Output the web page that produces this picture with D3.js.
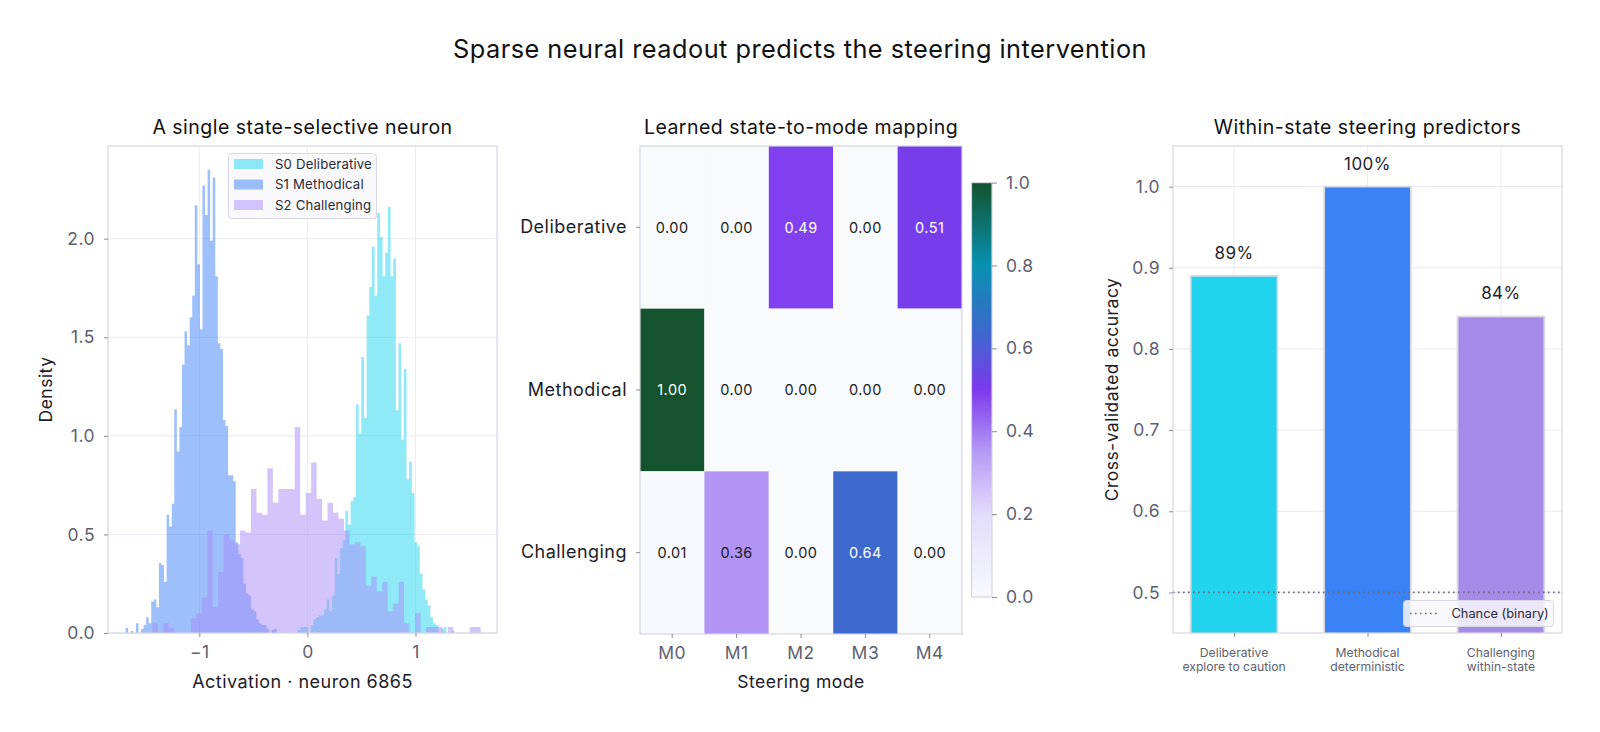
<!DOCTYPE html>
<html>
<head>
<meta charset="utf-8">
<script src="https://cdn.jsdelivr.net/npm/d3@7"></script>
<style>
  body { margin: 0; background: #fff; }
  svg { font-family: Inter, "Noto Sans", sans-serif; letter-spacing: 0.03em; }
</style>
</head>
<body>
<div class="chart"></div>
<script>
// ---- data ----
// histogram densities per bin (first bin edge, bin width, densities)
const s0Start = -0.0918, s0Bin = 0.0246
const s0Density = [0.015, 0.03, 0.03, 0.03, 0, 0.04, 0.07, 0.08, 0.09, 0.09, 0.12, 0.17, 0.11, 0.19, 0.38,
  0.30, 0.43, 0.47, 0.62, 0.55, 0.67, 0.69, 1.16, 1.01, 1.40, 1.09, 1.61, 1.755, 1.96, 1.71, 2.13, 2.01,
  1.81, 1.93, 2.16, 1.81, 1.90, 1.13, 1.47, 0.98, 1.34, 0.78, 0.87, 0.71, 0.46, 0.44, 0.30, 0.22, 0.17,
  0.14, 0.08, 0.05, 0.04, 0, 0.02, 0.03, 0, 0, 0.01]

const s1Start = -1.682, s1Bin = 0.0237
const s1Density = [0.025, 0, 0.01, 0, 0.05, 0, 0.02, 0.04, 0.08, 0.05, 0.16, 0.17, 0.13, 0.355, 0.345, 0.26,
  0.60, 0.54, 0.655, 1.135, 0.92, 1.045, 1.36, 1.53, 1.46, 1.60, 1.71, 2.17, 1.87, 1.54, 2.27, 2.12, 2.35,
  1.99, 2.31, 1.81, 1.47, 1.44, 1.08, 1.05, 0.80, 0.80, 0.77, 0.46, 0.40, 0.38, 0.25, 0.20, 0.19, 0.12,
  0.11, 0.07, 0.05, 0.04, 0.04, 0.02, 0, 0.015, 0.02]

const s2Start = -1.433, s2Bin = 0.0506
const s2Density = [0.05, 0, 0.05, 0.025, 0, 0, 0, 0.075, 0.10, 0.18, 0.52, 0.13, 0.31, 0.50, 0.47, 0.45,
  0.52, 0.51, 0.73, 0.61, 0.60, 0.835, 0.66, 0.73, 0.73, 0.73, 1.045, 0.60, 0.71, 0.865, 0.68, 0.57,
  0.66, 0.61, 0.58, 0.52, 0.45, 0.46, 0.44, 0.24, 0.285, 0.21, 0.26, 0.11, 0.15, 0.26, 0.05, 0, 0.10, 0,
  0.03, 0.03, 0.03, 0, 0.03, 0, 0, 0, 0.03, 0.03]

const seriesNames = ["S0 Deliberative", "S1 Methodical", "S2 Challenging"]
const histXTicks = [-1, 0, 1]
const histYTicks = [0, 0.5, 1.0, 1.5, 2.0]

// heatmap
const stateNames = ["Deliberative", "Methodical", "Challenging"]
const modeNames = ["M0", "M1", "M2", "M3", "M4"]
const mapping = [
  [0.00, 0.00, 0.49, 0.00, 0.51],
  [1.00, 0.00, 0.00, 0.00, 0.00],
  [0.01, 0.36, 0.00, 0.64, 0.00]
]
const cbarTicks = [0, 0.2, 0.4, 0.6, 0.8, 1.0]

// bars
const predictorLabels = [["Deliberative", "explore to caution"], ["Methodical", "deterministic"], ["Challenging", "within-state"]]
const accuracy = [0.89, 1.00, 0.84]
const chanceLevel = 0.5
const accTicks = [0.5, 0.6, 0.7, 0.8, 0.9, 1.0]

// ---- styles ----
const GRID = "#ebebf1"
const SPINE = "#d5d5df"
const TICK = "#8b8b99"
const TICKTXT = "#5d5f70"
const LABEL = "#1c1c28"
const histColors = ["#22d3ee", "#3b82f6", "#a78bfa"]
const barColors = ["#22d3ee", "#3b82f6", "#a68ae8"]

const width = 1600, height = 732
const svg = d3.select(".chart").append("svg")
  .attr("width", width)
  .attr("height", height)
const defs = svg.append("defs")

svg.append("text")
  .attr("x", 800).attr("y", 49).attr("dy", "0.36em")
  .attr("text-anchor", "middle")
  .attr("font-size", "25.3px")
  .attr("fill", "#111")
  .text("Sparse neural readout predicts the steering intervention")

function panelTitle(cx, txt) {
  svg.append("text")
    .attr("x", cx).attr("y", 126.5).attr("dy", "0.36em")
    .attr("text-anchor", "middle")
    .attr("font-size", "19.5px")
    .attr("fill", "#111")
    .text(txt)
}

function styleAxis(g) {
  g.select(".domain").remove()
  g.selectAll(".tick line").attr("stroke", TICK)
  g.selectAll(".tick text").attr("fill", TICKTXT).attr("font-size", "17.5px").attr("font-family", "Inter, sans-serif")
}

// ================= panel 1: histogram =================
const h = { left: 108, right: 497, top: 146, bottom: 633 }
const hx = d3.scaleLinear().domain([-1.845, 1.754]).range([h.left, h.right])
const hy = d3.scaleLinear().domain([0, 2.47]).range([h.bottom, h.top])
const p1 = svg.append("g")

p1.selectAll(".hgrid").data(histYTicks).enter().append("line")
  .attr("x1", h.left).attr("x2", h.right)
  .attr("y1", d => hy(d)).attr("y2", d => hy(d))
  .attr("stroke", GRID).attr("stroke-width", 1)
p1.selectAll(".vgrid").data(histXTicks).enter().append("line")
  .attr("x1", d => hx(d)).attr("x2", d => hx(d))
  .attr("y1", h.top).attr("y2", h.bottom)
  .attr("stroke", GRID).attr("stroke-width", 1)

function binPoints(start, bw, dens) {
  const pts = dens.map((d, i) => [start + i * bw, d])
  pts.push([start + dens.length * bw, dens[dens.length - 1]])
  return pts
}
const histArea = d3.area()
  .x(d => hx(d[0]))
  .y0(hy(0))
  .y1(d => hy(d[1]))
  .curve(d3.curveStepAfter)

const histSeries = [
  binPoints(s0Start, s0Bin, s0Density),
  binPoints(s1Start, s1Bin, s1Density),
  binPoints(s2Start, s2Bin, s2Density)
]
p1.selectAll(".hist").data(histSeries).enter().append("path")
  .attr("d", histArea)
  .attr("fill", (d, i) => histColors[i])
  .attr("fill-opacity", 0.5)

p1.append("rect")
  .attr("x", h.left).attr("y", h.top)
  .attr("width", h.right - h.left).attr("height", h.bottom - h.top)
  .attr("fill", "none").attr("stroke", SPINE).attr("stroke-width", 1.2)

p1.append("g").attr("transform", `translate(0,${h.bottom})`)
  .call(d3.axisBottom(hx).tickValues(histXTicks).tickSize(4).tickPadding(9)
    .tickFormat(d => d < 0 ? "\u2212" + Math.abs(d) : d))
  .call(styleAxis)
p1.append("g").attr("transform", `translate(${h.left},0)`)
  .call(d3.axisLeft(hy).tickValues(histYTicks).tickSize(4).tickPadding(9).tickFormat(d3.format(".1f")))
  .call(styleAxis)

// legend
const lg = p1.append("g").attr("letter-spacing", "0.01em")
lg.append("rect")
  .attr("x", 228.5).attr("y", 153.5).attr("width", 148).attr("height", 65).attr("rx", 3)
  .attr("fill", "#f8f8fb").attr("fill-opacity", 0.9).attr("stroke", "#d8d8e2")
seriesNames.forEach((name, i) => {
  lg.append("rect")
    .attr("x", 234).attr("y", 159 + i * 20.5).attr("width", 29).attr("height", 10)
    .attr("fill", histColors[i]).attr("fill-opacity", 0.5)
  lg.append("text")
    .attr("x", 275).attr("y", 164 + i * 20.5).attr("dy", "0.36em")
    .attr("font-size", "13.2px").attr("fill", "#2a2a36")
    .text(name)
})

panelTitle((h.left + h.right) / 2, "A single state-selective neuron")
p1.append("text")
  .attr("x", (h.left + h.right) / 2).attr("y", 682).attr("dy", "0.36em")
  .attr("text-anchor", "middle").attr("font-size", "18px").attr("fill", LABEL)
  .text("Activation \u00b7 neuron 6865")
p1.append("text")
  .attr("transform", `translate(46,${(h.top + h.bottom) / 2}) rotate(-90)`)
  .attr("text-anchor", "middle").attr("dy", "0.36em")
  .attr("font-size", "17.5px").attr("fill", LABEL)
  .text("Density")

// ================= panel 2: heatmap =================
const m = { left: 640, right: 962, top: 146, bottom: 634 }
const mx = d3.scaleBand().domain(modeNames).range([m.left, m.right])
const my = d3.scaleBand().domain(stateNames).range([m.top, m.bottom])
const cmap = d3.scaleLinear()
  .domain([0, 0.2, 0.35, 0.5, 0.64, 0.8, 1.0])
  .range(["#f8fafc", "#e2dcfb", "#b69af5", "#7c3aed", "#3d68cc", "#0891b2", "#14532d"])
  .interpolate(d3.interpolateRgb)
const p2 = svg.append("g")

const cells = []
mapping.forEach((row, r) => row.forEach((v, c) => cells.push({ state: stateNames[r], mode: modeNames[c], v })))

p2.selectAll(".cell").data(cells).enter().append("rect")
  .attr("x", d => mx(d.mode)).attr("y", d => my(d.state))
  .attr("width", mx.bandwidth()).attr("height", my.bandwidth())
  .attr("fill", d => cmap(d.v))
p2.selectAll(".cellText").data(cells).enter().append("text")
  .attr("x", d => mx(d.mode) + mx.bandwidth() / 2)
  .attr("y", d => my(d.state) + my.bandwidth() / 2)
  .attr("dy", "0.36em").attr("text-anchor", "middle")
  .attr("font-size", "14.5px")
  .attr("fill", d => d.v > 0.45 ? "#ffffff" : "#1a1a1a")
  .text(d => d.v.toFixed(2))

p2.append("rect")
  .attr("x", m.left).attr("y", m.top)
  .attr("width", m.right - m.left).attr("height", m.bottom - m.top)
  .attr("fill", "none").attr("stroke", SPINE).attr("stroke-width", 1.2)

p2.append("g").attr("transform", `translate(0,${m.bottom})`)
  .call(d3.axisBottom(mx).tickSize(4).tickPadding(9))
  .call(styleAxis)
p2.append("g").attr("transform", `translate(${m.left},0)`)
  .call(d3.axisLeft(my).tickSize(4).tickPadding(9))
  .call(styleAxis)
  .call(g => g.selectAll(".tick text").attr("fill", LABEL).attr("font-size", "18px"))

panelTitle((m.left + m.right) / 2, "Learned state-to-mode mapping")
p2.append("text")
  .attr("x", (m.left + m.right) / 2).attr("y", 682).attr("dy", "0.36em")
  .attr("text-anchor", "middle").attr("font-size", "17.5px").attr("fill", LABEL)
  .text("Steering mode")

// colorbar
const cb = { left: 971.5, right: 992, top: 182.6, bottom: 597 }
const cy = d3.scaleLinear().domain([0, 1]).range([cb.bottom, cb.top])
const grad = defs.append("linearGradient")
  .attr("id", "cbar").attr("x1", 0).attr("x2", 0).attr("y1", 1).attr("y2", 0)
d3.range(0, 1.0001, 0.02).forEach(t => {
  grad.append("stop").attr("offset", t).attr("stop-color", cmap(t))
})
p2.append("rect")
  .attr("x", cb.left).attr("y", cb.top)
  .attr("width", cb.right - cb.left).attr("height", cb.bottom - cb.top)
  .attr("fill", "url(#cbar)").attr("stroke", SPINE).attr("stroke-width", 1.2)
p2.append("g").attr("transform", `translate(${cb.right},0)`)
  .call(d3.axisRight(cy).tickValues(cbarTicks).tickSize(5).tickPadding(9).tickFormat(d3.format(".1f")))
  .call(styleAxis)

// ================= panel 3: bars =================
const b = { left: 1173, right: 1562, top: 146, bottom: 633 }
const bx = d3.scaleLinear().domain([-0.4575, 2.4575]).range([b.left, b.right])
const by = d3.scaleLinear().domain([0.45, 1.05]).range([b.bottom, b.top])
const barW = 0.65
const p3 = svg.append("g")

defs.append("clipPath").attr("id", "barclip")
  .append("rect").attr("x", b.left).attr("y", b.top)
  .attr("width", b.right - b.left).attr("height", b.bottom - b.top)

p3.selectAll(".bgrid").data(accTicks).enter().append("line")
  .attr("x1", b.left).attr("x2", b.right)
  .attr("y1", d => by(d)).attr("y2", d => by(d))
  .attr("stroke", GRID)
p3.selectAll(".bvgrid").data(accuracy).enter().append("line")
  .attr("x1", (d, i) => bx(i)).attr("x2", (d, i) => bx(i))
  .attr("y1", b.top).attr("y2", b.bottom)
  .attr("stroke", GRID)

p3.append("g").attr("clip-path", "url(#barclip)")
  .selectAll(".bar").data(accuracy).enter().append("rect")
  .attr("x", (d, i) => bx(i - barW / 2))
  .attr("width", bx(barW) - bx(0))
  .attr("y", d => by(d))
  .attr("height", d => by(0) - by(d))
  .attr("fill", (d, i) => barColors[i])
  .attr("stroke", "#d9d9e4").attr("stroke-width", 1.8)

p3.selectAll(".barLabel").data(accuracy).enter().append("text")
  .attr("x", (d, i) => bx(i))
  .attr("y", d => by(d) - 17)
  .attr("text-anchor", "middle")
  .attr("font-size", "17px").attr("fill", "#1f1f2a")
  .text(d => Math.round(d * 100) + "%")

p3.append("line")
  .attr("x1", b.left).attr("x2", b.right)
  .attr("y1", by(chanceLevel)).attr("y2", by(chanceLevel))
  .attr("stroke", "#6b6b7c").attr("stroke-width", 1.6)
  .attr("stroke-dasharray", "1.6,3.4")

p3.append("rect")
  .attr("x", b.left).attr("y", b.top)
  .attr("width", b.right - b.left).attr("height", b.bottom - b.top)
  .attr("fill", "none").attr("stroke", SPINE).attr("stroke-width", 1.2)

p3.append("g").attr("transform", `translate(${b.left},0)`)
  .call(d3.axisLeft(by).tickValues(accTicks).tickSize(4).tickPadding(9).tickFormat(d3.format(".1f")))
  .call(styleAxis)

p3.append("g").attr("transform", `translate(0,${b.bottom})`)
  .call(d3.axisBottom(bx).tickValues([0, 1, 2]).tickSize(4).tickFormat(""))
  .call(styleAxis)
predictorLabels.forEach((lines, i) => {
  const t = p3.append("text")
    .attr("x", bx(i)).attr("y", 652.3)
    .attr("text-anchor", "middle").attr("font-size", "12.2px").attr("fill", TICKTXT)
    .attr("letter-spacing", "0")
  lines.forEach((ln, j) => {
    t.append("tspan").attr("x", bx(i)).attr("dy", j === 0 ? "0.36em" : "1.17em").text(ln)
  })
})

// chance legend
const cl = p3.append("g")
cl.append("rect")
  .attr("x", 1403.5).attr("y", 600.5).attr("width", 150).attr("height", 26).attr("rx", 3)
  .attr("fill", "#f8f8fb").attr("fill-opacity", 0.85).attr("stroke", "#d8d8e2")
cl.append("line")
  .attr("x1", 1410).attr("x2", 1440).attr("y1", 613.5).attr("y2", 613.5)
  .attr("stroke", "#6b6b7c").attr("stroke-width", 1.6).attr("stroke-dasharray", "1.6,3.4")
cl.append("text")
  .attr("x", 1451.5).attr("y", 613.5).attr("dy", "0.36em")
  .attr("font-size", "12.8px").attr("fill", "#2a2a36").attr("letter-spacing", "0")
  .text("Chance (binary)")

panelTitle((b.left + b.right) / 2, "Within-state steering predictors")
p3.append("text")
  .attr("transform", `translate(1112,${(b.top + b.bottom) / 2}) rotate(-90)`)
  .attr("text-anchor", "middle").attr("dy", "0.36em")
  .attr("font-size", "17.5px").attr("fill", LABEL)
  .text("Cross-validated accuracy")
</script>
</body>
</html>
